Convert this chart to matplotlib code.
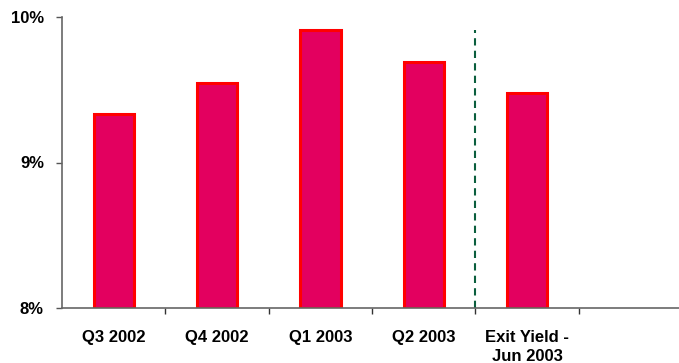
import matplotlib
matplotlib.use("Agg")
import matplotlib.pyplot as plt
from matplotlib.ticker import FixedLocator, FuncFormatter

# yield by quarter (%)
categories = ["Q3 2002", "Q4 2002", "Q1 2003", "Q2 2003", "Exit Yield -\nJun 2003"]
yields = [9.33, 9.545, 9.91, 9.69, 9.48]

plt.rcParams["font.family"] = ["Liberation Sans", "DejaVu Sans"]

fig = plt.figure(figsize=(6.79, 3.63), dpi=100)
ax = fig.add_axes([62 / 679, 55 / 363, 617 / 679, 291 / 363])

x = list(range(len(categories)))
ax.bar(x, [v - 8 for v in yields], bottom=8, width=0.39,
       color="#E3005F", edgecolor="#FF0000", linewidth=2.2, zorder=2)

# separator between actuals and exit yield
ax.axvline(3.5, ymin=0.0, ymax=0.955, color="#0B5E3E", linestyle=(0, (3.5, 2.5)),
           linewidth=1.5, zorder=1)

ax.set_xlim(-0.5, 5.47)
ax.set_ylim(8, 10)

ax.yaxis.set_major_locator(FixedLocator([8, 9, 10]))
ax.yaxis.set_major_formatter(FuncFormatter(lambda v, p: "%d%%" % round(v)))
ax.tick_params(axis="y", direction="out", length=4, width=1, color="#555555",
               pad=9, labelsize=12)
for lbl in ax.get_yticklabels():
    lbl.set_fontweight("bold")

ax.set_xticks(x)
ax.set_xticklabels(categories, fontsize=12, fontweight="bold", linespacing=1.35)
ax.tick_params(axis="x", which="major", length=0, pad=16)
ax.set_xticks([0.5 + i for i in range(5)], minor=True)
ax.tick_params(axis="x", which="minor", direction="out", length=4, width=1,
               color="#333333")

for side in ("top", "right"):
    ax.spines[side].set_visible(False)
ax.spines["left"].set_color("#666666")
ax.spines["bottom"].set_color("#666666")
ax.spines["left"].set_linewidth(1.2)
ax.spines["bottom"].set_linewidth(1.2)

fig.savefig("out.png", dpi=100)
